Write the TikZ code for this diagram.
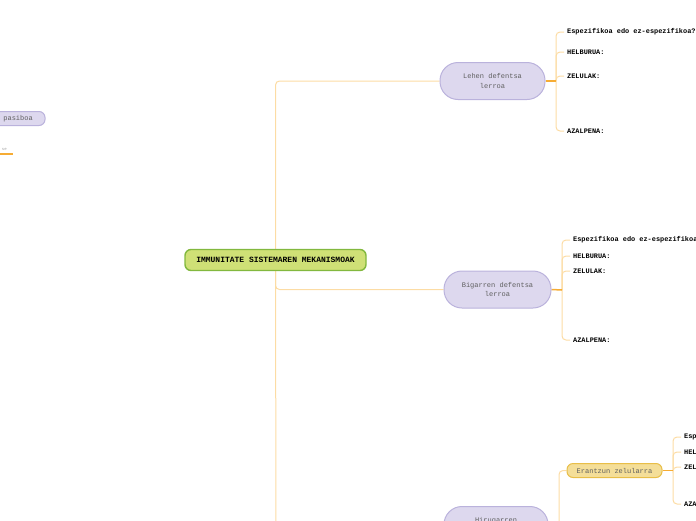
\documentclass[tikz,border=0pt]{standalone}
\usepackage{fontspec}
\setmonofont{Liberation Mono}
\usetikzlibrary{backgrounds}
\definecolor{rootfill}{RGB}{207,224,118}
\definecolor{rootdraw}{RGB}{130,184,62}
\definecolor{lavfill}{RGB}{221,216,238}
\definecolor{lavdraw}{RGB}{186,178,220}
\definecolor{yelfill}{RGB}{244,222,152}
\definecolor{yeldraw}{RGB}{232,190,72}
\definecolor{connlight}{RGB}{252,220,164}
\definecolor{conndark}{RGB}{246,172,52}
\definecolor{txtgray}{RGB}{95,95,95}
\tikzset{
  rootbox/.style={draw=rootdraw, fill=rootfill, line width=1.4pt, rounded corners=6pt,
    minimum width=181pt, minimum height=21pt, inner sep=0pt,
    font=\ttfamily\bfseries\fontsize{8}{9}\selectfont},
  pillbox/.style={draw=lavdraw, fill=lavfill, line width=1pt, rounded corners=18pt,
    minimum height=37pt, inner sep=0pt, align=center, text=txtgray,
    font=\ttfamily\fontsize{7}{9.5}\selectfont},
  smallbox/.style={draw=lavdraw, fill=lavfill, line width=1pt, rounded corners=6pt,
    minimum height=14pt, inner sep=0pt, text=txtgray,
    font=\ttfamily\fontsize{7}{8}\selectfont},
  yelbox/.style={draw=yeldraw, fill=yelfill, line width=1pt, rounded corners=6pt,
    minimum width=95pt, minimum height=14pt, inner sep=0pt, text=txtgray,
    font=\ttfamily\fontsize{7}{8}\selectfont},
  leaf/.style={anchor=west, inner sep=0pt, font=\ttfamily\bfseries\fontsize{6.9}{8}\selectfont},
  conn/.style={draw=connlight, line width=1pt, rounded corners=4pt},
  connd/.style={draw=conndark, line width=1.5pt},
}
\begin{document}
\begin{tikzpicture}[x=1pt,y=-1pt]
\useasboundingbox (0,0) rectangle (696,520);
\clip (0,0) rectangle (696,520);
% main nodes
\node[rootbox] (root) at (275.5,260) {IMMUNITATE SISTEMAREN MEKANISMOAK};
\node[pillbox, minimum width=105pt] (lehen) at (492.5,81) {Lehen defentsa\\lerroa};
\node[pillbox, minimum width=107pt] (bigarren) at (497.5,289.5) {Bigarren defentsa\\lerroa};
\node[pillbox, minimum width=104pt] (hiru) at (496,525) {Hirugarren\\defentsa lerroa};
\node[yelbox] (erantzun) at (614.5,470.5) {Erantzun zelularra};
\node[smallbox, minimum width=100pt] (pasiboa) at (-5,118.5) {Immunitate pasiboa};
\node[anchor=east, inner sep=0pt, text=txtgray!60, font=\ttfamily\fontsize{4}{5}\selectfont] (small) at (7,149) {se};
\coordinate (lstart) at (0,154);
\coordinate (lend) at (13,154);
% leaves of Lehen
\node[leaf] (a1) at (567,32) {Espezifikoa edo ez-espezifikoa?};
\node[leaf] (a2) at (567,52) {HELBURUA:};
\node[leaf] (a3) at (567,76) {ZELULAK:};
\node[leaf] (a4) at (567,131) {AZALPENA:};
% leaves of Bigarren
\node[leaf] (b1) at (573,240) {Espezifikoa edo ez-espezifikoa?};
\node[leaf] (b2) at (573,256) {HELBURUA:};
\node[leaf] (b3) at (573,271) {ZELULAK:};
\node[leaf] (b4) at (573,340) {AZALPENA:};
% leaves of Erantzun
\node[leaf] (c1) at (684,437) {Espezifikoa edo ez-espezifikoa?};
\node[leaf] (c2) at (684,452) {HELBURUA:};
\node[leaf] (c3) at (684,467) {ZELULAK:};
\node[leaf] (c4) at (684,504) {AZALPENA:};
% junctions
\coordinate (ja) at (556,81);
\coordinate (jb) at (562,290);
\coordinate (jc) at (673,470.5);
\coordinate (jh) at (559,525);
\coordinate (rb) at (276,540);
\begin{scope}[on background layer]
\draw[conn] (root.center) |- (lehen.west);
\draw[conn] (root.center) |- (bigarren.west);
\draw[conn] (root.center) -- (rb);
\draw[conn] (ja) |- ([xshift=-3pt]a1.west);
\draw[conn] (ja) |- ([xshift=-3pt]a2.west);
\draw[conn] (ja) |- ([xshift=-3pt]a3.west);
\draw[conn] (ja) |- ([xshift=-3pt]a4.west);
\draw[conn] (jb) |- ([xshift=-3pt]b1.west);
\draw[conn] (jb) |- ([xshift=-3pt]b2.west);
\draw[conn] (jb) |- ([xshift=-3pt]b3.west);
\draw[conn] (jb) |- ([xshift=-3pt]b4.west);
\draw[conn] (jc) |- ([xshift=-3pt]c1.west);
\draw[conn] (jc) |- ([xshift=-3pt]c2.west);
\draw[conn] (jc) |- ([xshift=-3pt]c3.west);
\draw[conn] (jc) |- ([xshift=-3pt]c4.west);
\draw[conn] (jh) |- (erantzun.west);
\draw[connd] (lehen.east) -- (ja);
\draw[connd] (bigarren.east) -- (jb);
\draw[connd] (erantzun.east) -- (jc);
\draw[connd] (lstart) -- (lend);
\end{scope}
\end{tikzpicture}
\end{document}
